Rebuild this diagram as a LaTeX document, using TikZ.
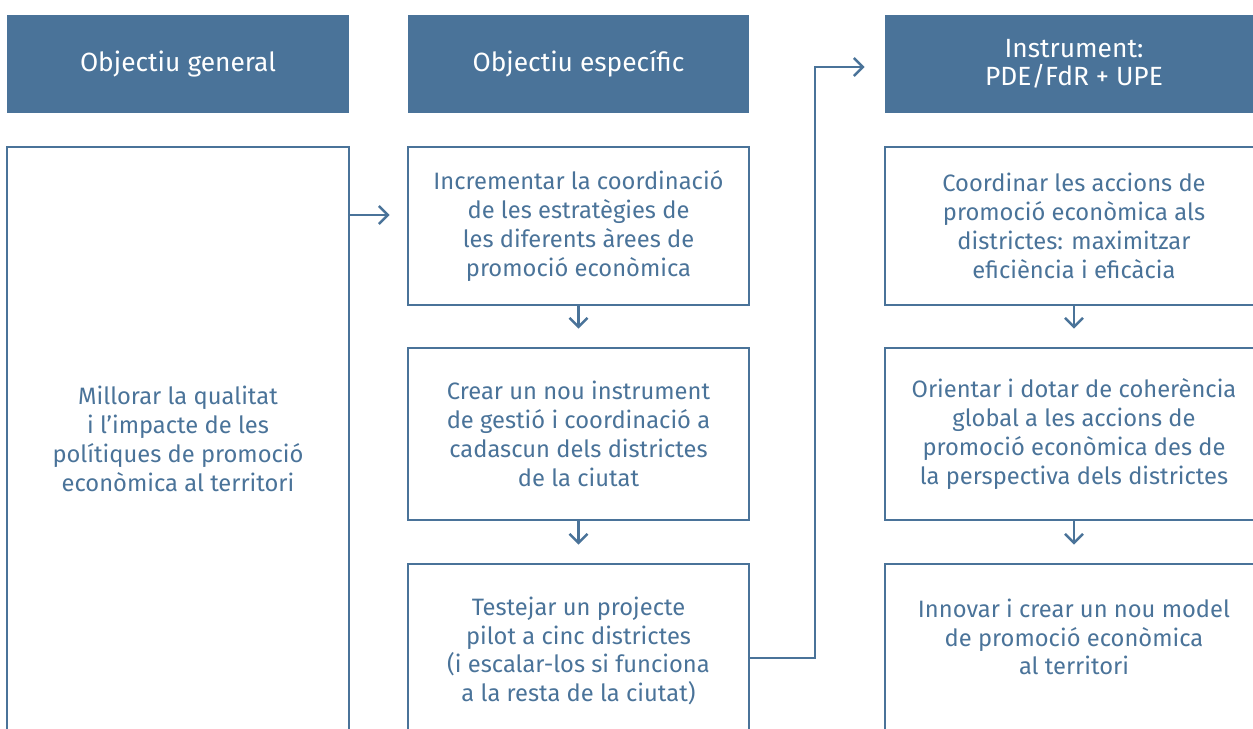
\documentclass[tikz,border=0pt]{standalone}
\usepackage{fontspec}
\setmainfont{Fira Sans}
\usetikzlibrary{arrows.meta, positioning, calc}
\definecolor{cblue}{HTML}{4A7399}
\tikzset{
  every picture/.style={line width=1.6pt},
  head/.style={fill=cblue, text=white, align=center, inner sep=0pt, minimum height=1.96cm,
    font=\fontsize{15}{16.2}\selectfont},
  card/.style={draw=cblue, text=cblue, align=center, inner sep=0pt,
    font=\fontsize{13.5}{16.4}\selectfont},
  cardtext/.style={text=cblue, align=center, inner sep=0pt, font=\fontsize{13.5}{16.4}\selectfont},
  arrow/.style={-{Straight Barb[length=1.8mm, width=3.6mm]}, draw=cblue, line width=1.4pt},
}

\begin{document}
\begin{tikzpicture}[x=0.02cm, y=-0.02cm]
  \useasboundingbox (0,0) rectangle (1253,729);
  \clip (0,0) rectangle (1253,729);
  % column headers
  \node[head, minimum width=6.84cm] (hgen) at (178,64) {Objectiu general};
  \node[head, minimum width=6.82cm] (hesp) at (578.5,64) {Objectiu específic};
  \node[head, minimum width=7.56cm] (hins) at (1074,64) {Instrument:\\PDE/FdR + UPE};
  % general objective
  \node[card, minimum width=6.84cm, minimum height=11.68cm] (gen) at (178,439)
    {Millorar la qualitat\\i l’impacte de les\\polítiques de promoció\\econòmica al territori};
  % specific objectives
  \node[card, minimum width=6.82cm, minimum height=3.16cm] (esp1) at (578.5,226)
    {Incrementar la coordinació\\de les estratègies de\\les diferents àrees de\\promoció econòmica};
  \node[card, minimum width=6.82cm, minimum height=3.44cm] (esp2) at (578.5,434)
    {Crear un nou instrument\\de gestió i coordinació a\\cadascun dels districtes\\de la ciutat};
  \node[card, minimum width=6.82cm, minimum height=3.48cm] (esp3) at (578.5,651)
    {Testejar un projecte\\pilot a cinc districtes\\(i escalar-los si funciona\\a la resta de la ciutat)};
  % instrument
  \node[card, minimum width=7.56cm, minimum height=3.16cm] (ins1) at (1074,226)
    {Coordinar les accions de\\promoció econòmica als\\districtes: maximitzar\\eficiència i eficàcia};
  \node[card, minimum width=7.56cm, minimum height=3.44cm] (ins2) at (1074,434)
    {Orientar i dotar de coherència\\global a les accions de\\promoció econòmica des de\\la perspectiva dels districtes};
  \node[card, minimum width=7.56cm, minimum height=3.48cm] (ins3) at (1074,651) {};
  \node[cardtext] (ins3txt) at (1074,637)
    {Innovar i crear un nou model\\de promoció econòmica\\al territori};
  % connectors
  \draw[arrow, shorten >=0.34cm] (gen.east |- 0,215) -- (esp1.west |- 0,215);
  \draw[arrow, shorten >=0.36cm] (esp1) -- (esp2);
  \draw[arrow, shorten >=0.36cm] (esp2) -- (esp3);
  \draw[arrow, shorten >=0.36cm] (ins1) -- (ins2);
  \draw[arrow, shorten >=0.36cm] (ins2) -- (ins3);
  \draw[arrow, shorten >=0.38cm] (esp3.east |- 0,658) -- (815,658) |- (hins.west |- 0,67);
\end{tikzpicture}
\end{document}
